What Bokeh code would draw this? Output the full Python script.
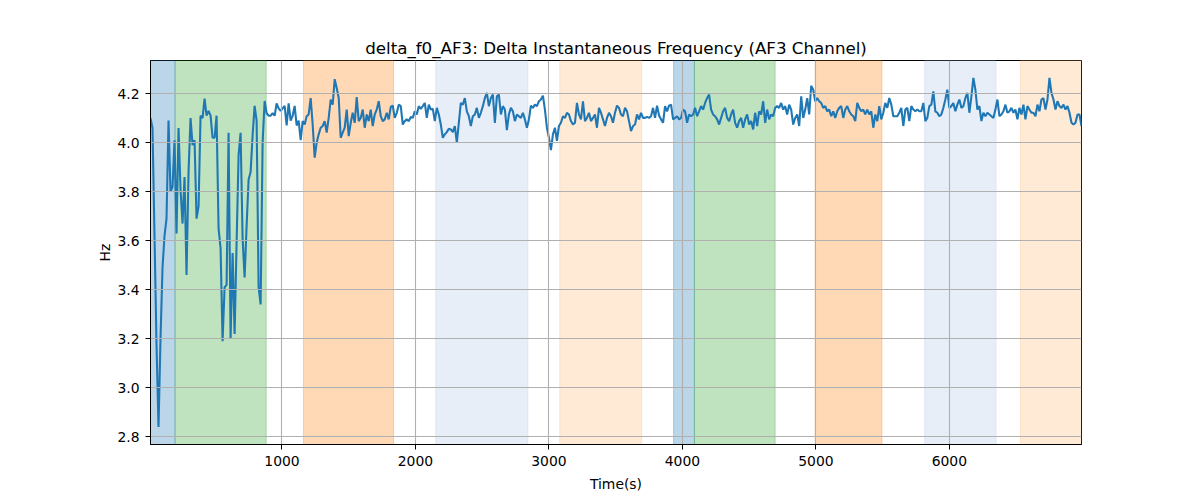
import numpy as np
from bokeh.plotting import figure
from bokeh.models import BoxAnnotation, FixedTicker, PrintfTickFormatter, Range1d
from bokeh.embed import file_html
from bokeh.resources import INLINE

# ---- data -------------------------------------------------------------
T_START = 15     # first sample time (s)
T_STEP = 15      # sampling interval (s)

seg_a = [4.10, 4.06, 3.62, 3.18, 2.84, 3.20, 3.49, 3.62, 3.69, 4.09,
         3.80, 3.82, 4.01, 3.63, 4.06, 3.81, 3.67, 3.86, 3.46, 3.88,
         4.10, 3.99, 4.01, 3.69, 3.74, 4.11, 4.10, 4.18, 4.11, 4.13,
         4.11, 4.02, 4.02, 4.11, 3.65, 3.57, 3.19, 3.41, 3.42, 4.04,
         3.20, 3.55, 3.22, 3.59, 3.95, 4.04, 3.61, 3.45, 3.66, 3.85,
         3.88, 4.03, 4.15, 4.09, 3.41, 3.34, 4.00, 4.17, 4.12, 4.11,
         4.11, 4.12, 4.11, 4.16, 4.14, 4.13, 4.14, 4.15, 4.07, 4.16,
         4.09, 4.11, 4.15, 4.07, 4.09, 4.01]

seg_b = [4.088, 4.074, 4.108, 4.115, 4.182, 4.074, 3.939, 4.000, 4.034, 4.061,
         4.068, 4.088, 4.041, 4.101, 4.176, 4.155, 4.259, 4.223, 4.182, 4.020,
         4.041, 4.061, 4.135, 4.027, 4.081, 4.122, 4.081, 4.186, 4.088, 4.101,
         4.135, 4.061, 4.115, 4.088, 4.135, 4.068, 4.115, 4.135, 4.169, 4.108,
         4.088, 4.095, 4.122, 4.095, 4.146, 4.151, 4.101, 4.122, 4.155, 4.149,
         4.074, 4.088, 4.095, 4.088, 4.105, 4.101, 4.128, 4.115, 4.149, 4.138,
         4.149, 4.162, 4.101, 4.155, 4.135, 4.138, 4.088, 4.142, 4.115, 4.074,
         4.020, 4.034, 4.043, 4.057, 4.054, 4.043, 4.068, 4.000, 4.081, 4.162,
         4.155, 4.182, 4.128, 4.108]

seg_c = [4.068, 4.108, 4.115, 4.142, 4.101, 4.122, 4.149, 4.182, 4.203, 4.149,
         4.182, 4.196, 4.081, 4.189, 4.196, 4.115, 4.149, 4.135, 4.051, 4.115,
         4.142, 4.128, 4.088, 4.115, 4.108, 4.101, 4.122, 4.095, 4.061, 4.095,
         4.151, 4.142, 4.155, 4.149, 4.169, 4.176, 4.192, 4.135, 4.061, 4.020,
         3.970, 4.034, 4.061, 4.007, 4.068, 4.081, 4.108, 4.101, 4.122, 4.115,
         4.088, 4.074, 4.081, 4.162, 4.115, 4.095, 4.169, 4.088, 4.101, 4.122,
         4.088, 4.101, 4.115, 4.061, 4.142, 4.122, 4.095, 4.068, 4.101, 4.122,
         4.108, 4.081, 4.122, 4.151, 4.142, 4.115, 4.108, 4.142, 4.128, 4.088,
         4.047, 4.068, 4.074, 4.115, 4.095, 4.122, 4.101, 4.101, 4.105, 4.101,
         4.108, 4.142, 4.101, 4.151, 4.111, 4.095, 4.081, 4.149, 4.128, 4.151,
         4.155]

seg_d = [4.095, 4.101, 4.108, 4.095, 4.101, 4.135, 4.128, 4.081, 4.115, 4.108,
         4.115, 4.142, 4.108, 4.128, 4.149, 4.135, 4.162, 4.182, 4.196, 4.135,
         4.115, 4.108, 4.095, 4.074, 4.101, 4.128, 4.142, 4.101, 4.088, 4.115,
         4.135, 4.081, 4.061, 4.088, 4.101, 4.061, 4.095, 4.115, 4.074, 4.088,
         4.054, 4.122, 4.068, 4.128, 4.115, 4.169, 4.081, 4.135, 4.095, 4.115,
         4.108, 4.142, 4.149, 4.142, 4.162, 4.135, 4.149, 4.115, 4.155, 4.135,
         4.074, 4.101, 4.115, 4.068, 4.189, 4.101, 4.135, 4.182, 4.115, 4.232,
         4.216, 4.169, 4.182, 4.169, 4.162, 4.142, 4.149, 4.128, 4.135, 4.108,
         4.128, 4.101, 4.128, 4.142, 4.149, 4.101, 4.135, 4.149, 4.128, 4.115,
         4.108, 4.088, 4.162, 4.142, 4.128, 4.135, 4.115, 4.135, 4.115, 4.128]

seg_e = [4.061, 4.115, 4.088, 4.149, 4.095, 4.122, 4.162, 4.142, 4.182, 4.155,
         4.108, 4.108, 4.108, 4.122, 4.142, 4.068, 4.135, 4.142, 4.088, 4.149,
         4.135, 4.128, 4.135, 4.128, 4.128, 4.162, 4.088, 4.101, 4.149, 4.155,
         4.209, 4.128, 4.122, 4.108, 4.115, 4.142, 4.176, 4.216, 4.142, 4.149,
         4.162, 4.128, 4.155, 4.176, 4.142, 4.149, 4.182, 4.203, 4.122, 4.189,
         4.264, 4.216, 4.135, 4.149, 4.088, 4.122, 4.108, 4.122, 4.115, 4.108,
         4.101, 4.135, 4.176, 4.108, 4.115, 4.128, 4.155, 4.122, 4.128, 4.142,
         4.122, 4.135, 4.095, 4.142, 4.115, 4.155, 4.095, 4.149, 4.135, 4.122,
         4.122, 4.108, 4.155, 4.128, 4.176, 4.182, 4.135, 4.176, 4.264, 4.203,
         4.176, 4.135, 4.169, 4.149, 4.142, 4.155, 4.135, 4.149, 4.122, 4.081,
         4.074, 4.081, 4.115, 4.115, 4.068]

span_starts = [0, 199, 1161, 2152, 3081, 3934, 4090, 4995, 5815, 6532]
span_ends = [199, 882, 1836, 2843, 3695, 4090, 4695, 5495, 6350, 7000]
span_colors = ["#1f77b4", "#2ca02c", "#ff7f0e", "#aec7e8", "#ffbb78",
               "#1f77b4", "#2ca02c", "#ff7f0e", "#aec7e8", "#ffbb78"]

x_ticks = [1000, 2000, 3000, 4000, 5000, 6000]
y_ticks = [2.8, 3.0, 3.2, 3.4, 3.6, 3.8, 4.0, 4.2]

title_text = "delta_f0_AF3: Delta Instantaneous Frequency (AF3 Channel)"
x_label = "Time(s)"
y_label = "Hz"

# ---- build ------------------------------------------------------------
values = np.array(seg_a + seg_b + seg_c + seg_d + seg_e)
time = T_START + T_STEP * np.arange(len(values))

vmin, vmax = values.min(), values.max()
pad = 0.05 * (vmax - vmin)

FONT = "DejaVu Sans"

p = figure(width=1200, height=500, output_backend="svg", toolbar_location=None,
           x_range=Range1d(time[0], time[-1]),
           y_range=Range1d(vmin - pad, vmax + pad),
           min_border_left=150, min_border_right=119,
           min_border_top=60, min_border_bottom=56,
           title=title_text)

p.title.text_font = FONT
p.title.text_font_size = "16.7px"
p.title.text_font_style = "normal"
p.title.align = "center"
p.title.text_color = "black"
p.title.standoff = 6

for s, e, c in zip(span_starts, span_ends, span_colors):
    p.add_layout(BoxAnnotation(left=s, right=e, fill_color=c, fill_alpha=0.3,
                               line_color=c, line_alpha=0.3, line_width=1,
                               level="underlay"))

for g in (p.xgrid, p.ygrid):
    g.grid_line_color = "#b0b0b0"
    g.grid_line_width = 1.1
    g.level = "glyph"
p.xgrid.ticker = FixedTicker(ticks=x_ticks)
p.ygrid.ticker = FixedTicker(ticks=y_ticks)

p.line(time, values, line_color="#1f77b4", line_width=2.08)

p.xaxis.ticker = FixedTicker(ticks=x_ticks)
p.yaxis.ticker = FixedTicker(ticks=y_ticks)
p.yaxis.formatter = PrintfTickFormatter(format="%.1f")
p.xaxis.axis_label = x_label
p.yaxis.axis_label = y_label

for ax in (p.xaxis, p.yaxis):
    ax.major_label_text_font = FONT
    ax.major_label_text_font_size = "13.9px"
    ax.major_label_text_color = "black"
    ax.axis_label_text_font = FONT
    ax.axis_label_text_font_size = "13.9px"
    ax.axis_label_text_font_style = "normal"
    ax.axis_label_text_color = "black"
    ax.axis_line_color = "black"
    ax.major_tick_line_color = "black"
    ax.major_tick_out = 5
    ax.major_tick_in = 0
    ax.minor_tick_out = 0
    ax.minor_tick_in = 0
    ax.major_label_standoff = 6

p.xaxis.axis_label_standoff = 7
p.yaxis.axis_label_standoff = 1

p.outline_line_color = "black"
p.outline_line_alpha = 1
p.outline_line_width = 1

p.background_fill_color = "white"
p.border_fill_color = "white"

html = file_html(p, INLINE)
open("out.html", "w").write(html)
